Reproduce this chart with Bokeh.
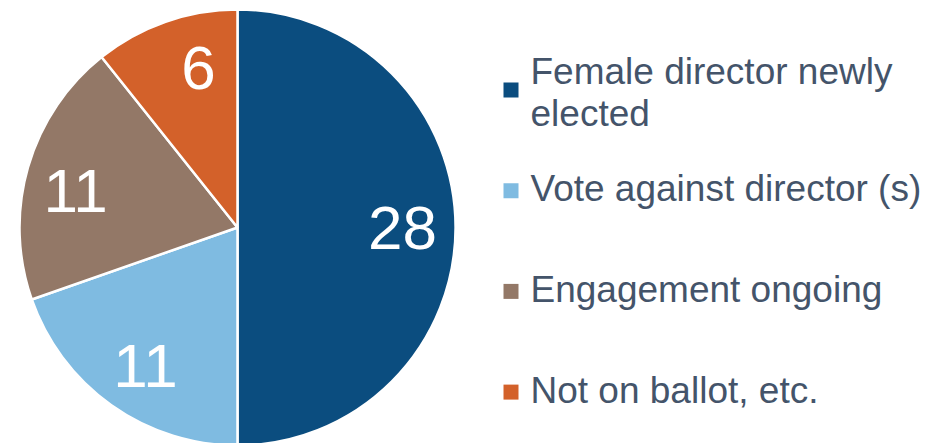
import math
from bokeh.plotting import figure
from bokeh.models import Range1d, ColumnDataSource
from bokeh.core.properties import value
from bokeh.embed import file_html
from bokeh.resources import INLINE

# ---- data ----
categories = ["Female director newly elected", "Vote against director (s)",
              "Engagement ongoing", "Not on ballot, etc."]
legend_lines = [["Female director newly", "elected"], ["Vote against director (s)"],
                ["Engagement ongoing"], ["Not on ballot, etc."]]
counts = [28, 11, 11, 6]
colors = ["#0B4D7F", "#7FBBE1", "#937867", "#D3612A"]

# ---- layout (pixels) ----
W, H = 943, 443
cx, cy_pix, R = 237, 227, 218
cy = H - cy_pix
label_r = [165, 166, 166, 164]
label_shift = [0, 0.03, 0.056, -0.096]   # angular nudge (radians)
TEXT_COLOR = "#44546A"
FONT = "Liberation Sans"

p = figure(width=W, height=H, x_range=Range1d(0, W), y_range=Range1d(0, H),
           output_backend="svg", toolbar_location=None, min_border=0,
           outline_line_color=None, background_fill_color="white")
p.axis.visible = False
p.grid.visible = False

total = sum(counts)
starts, ends, lx, ly, ltxt = [], [], [], [], []
cum = 0
for i, c in enumerate(counts):
    a0 = math.pi / 2 - cum / total * 2 * math.pi
    a1 = math.pi / 2 - (cum + c) / total * 2 * math.pi
    starts.append(a0)
    ends.append(a1)
    mid = (a0 + a1) / 2 + label_shift[i]
    lx.append(cx + label_r[i] * math.cos(mid))
    ly.append(cy + label_r[i] * math.sin(mid))
    ltxt.append(str(c))
    cum += c

src = ColumnDataSource(dict(start=starts, end=ends, color=colors))
p.wedge(x=cx, y=cy, radius=R, start_angle="start", end_angle="end",
        direction="clock", fill_color="color", line_color="white",
        line_width=2.5, source=src)

p.text(x=lx, y=ly, text=ltxt, text_color="white", text_font=value(FONT),
       text_font_size="62px", text_align="center", text_baseline="middle")

# ---- legend ----
sq_x = 510.5
sq_size = 15
txt_x = 530
y0_pix, step = 89.5, 100.7
line_h = 42
tx, ty, tt = [], [], []
sx, sy = [], []
for i, lines in enumerate(legend_lines):
    c_pix = y0_pix + i * step
    sx.append(sq_x)
    sy.append(H - c_pix)
    n = len(lines)
    first_base = c_pix - 2 - (n - 1) * line_h / 2 + (n - 1) * 4
    for j, ln in enumerate(lines):
        tx.append(txt_x)
        ty.append(H - (first_base + j * line_h))
        tt.append(ln)

p.rect(x=sx, y=sy, width=sq_size, height=sq_size, fill_color=colors,
       line_color=None)
p.text(x=tx, y=ty, text=tt, text_color=TEXT_COLOR, text_font=value(FONT),
       text_font_size="37px", text_align="left", text_baseline="alphabetic")

open("out.html", "w").write(file_html(p, INLINE))
